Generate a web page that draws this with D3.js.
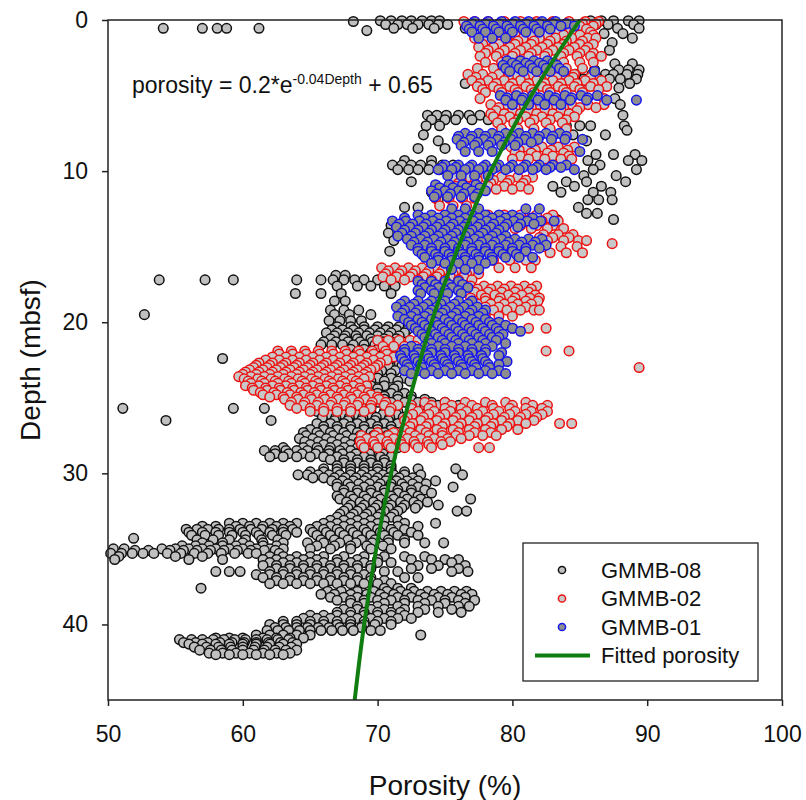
<!DOCTYPE html>
<html>
<head>
<meta charset="utf-8">
<title>Porosity vs depth</title>
<script src="https://cdn.jsdelivr.net/npm/d3@7"></script>
<style>
  body { margin: 0; background: #fff; }
  svg { font-family: "Liberation Sans", Arial, sans-serif; }
  .axis text { font-size: 23px; fill: #111; }
  .axis line { stroke: #222; stroke-width: 1.5; }
  .axis path { display: none; }
  .frame { fill: none; stroke: #222; stroke-width: 1.5; }
  .dot { stroke-width: 1.5; }
  .s08 { fill: #c0c0c0; stroke: #111; }
  .s02 { fill: #c8c8c8; stroke: #ee1111; }
  .s01 { fill: #8e8e8e; stroke: #1515ee; }
  .fit { fill: none; stroke: #0f7d0f; stroke-width: 4; }
  .title { font-size: 28px; fill: #111; }
  .eq { font-size: 23px; fill: #111; }
  .legend text { font-size: 22px; fill: #111; }
  .legend rect { fill: #fff; stroke: #222; stroke-width: 1.3; }
</style>
</head>
<body>
<script>

// each row: [depth (mbsf), porosity (%), porosity, ...]
var gmmb08 = [
  [0.05, 70.2, 71.0, 71.8, 72.5, 73.3, 74.0, 74.6, 85.8, 86.6, 87.5, 88.6, 89.4],
  [0.1, 68.2],
  [0.3, 70.6, 71.5, 72.2, 73.0, 73.8, 74.5, 75.2, 86.2, 87.1, 89.0],
  [0.55, 54.1, 57.0, 58.1, 58.8, 61.2, 71.2, 72.6, 74.2, 76.5, 87.8, 89.4],
  [0.7, 69.2],
  [0.9, 86.8, 88.2],
  [1.2, 85.6, 88.9],
  [1.5, 87.4],
  [2.0, 87.2],
  [2.9, 87.6, 88.9],
  [3.3, 86.1, 87.9, 88.6, 89.4],
  [3.6, 84.7, 85.9, 86.9, 87.5, 88.5, 89.3],
  [3.9, 77.1, 84.1, 85.3, 86.4, 87.2, 88.0, 89.2],
  [4.2, 76.5, 85.0, 86.0, 88.7],
  [4.5, 87.9],
  [5.2, 87.6],
  [5.6, 88.0],
  [6.3, 73.7, 74.4, 75.1, 76.0, 76.8, 77.6, 78.5, 88.2],
  [6.6, 74.0, 75.0, 75.8, 77.0, 78.2],
  [7.0, 73.6, 74.6, 84.0, 85.0, 85.8, 88.3],
  [7.3, 88.5],
  [7.6, 73.4, 84.5, 86.9],
  [8.0, 74.5, 85.5],
  [8.5, 73.0, 75.0],
  [8.9, 86.2, 87.5, 89.1],
  [9.3, 72.0, 74.0, 85.6, 88.6, 89.6],
  [9.6, 71.1, 71.8, 72.5, 73.2, 74.0, 74.8, 75.6, 86.5],
  [9.9, 71.5, 72.3, 73.0, 73.8, 74.6, 86.0, 89.2],
  [10.3, 85.3, 87.7],
  [10.7, 72.5, 84.0, 85.5, 88.4],
  [11.0, 83.0, 84.6, 86.6],
  [11.4, 74.0, 83.6, 86.0, 87.3],
  [11.9, 74.5, 85.6, 86.4, 87.4],
  [12.4, 72.0, 73.0, 84.9],
  [12.8, 85.5, 86.3],
  [13.2, 83.3, 87.5],
  [13.6, 71.0, 72.0],
  [14.1, 70.8, 71.8],
  [14.6, 71.2],
  [15.3, 70.9],
  [16.6, 71.5],
  [16.9, 66.9, 67.6, 70.6],
  [17.2, 53.8, 57.2, 59.3, 64.0, 65.8, 66.7, 67.5, 68.3, 69.0, 70.0, 71.0],
  [17.6, 67.0, 68.5, 69.5, 70.5, 71.3],
  [18.1, 63.9, 65.8, 67.3, 71.0],
  [18.6, 66.8, 67.6],
  [19.2, 66.5, 67.5, 68.6],
  [19.5, 52.7, 66.8, 67.9, 69.5],
  [19.9, 66.4, 67.2, 68.0, 68.8],
  [20.3, 67.0, 68.0, 69.0, 70.0, 70.8, 71.6, 72.4, 73.2],
  [20.5, 66.6, 67.4, 68.2, 69.0, 69.8, 70.6, 71.4, 72.2],
  [20.7, 66.2, 67.0, 67.8, 68.6, 69.4, 70.2, 71.0, 72.0],
  [20.9, 66.8, 67.6, 68.4, 69.2, 70.0, 70.8, 71.6],
  [21.1, 66.5, 67.5, 68.5, 69.5, 70.5, 71.4],
  [21.3, 66.0, 66.9, 67.8, 68.7, 69.6, 70.4, 71.0],
  [21.5, 65.8, 66.6, 67.4, 68.2, 69.0, 69.8, 70.6],
  [21.8, 68.0, 69.0, 70.0, 71.0],
  [22.0, 68.5, 69.5, 70.5, 71.5],
  [22.2, 68.3, 69.3, 70.3, 71.3],
  [22.4, 58.5, 69.0, 70.0, 71.0],
  [22.7, 68.6, 69.6, 70.6, 71.6],
  [22.9, 68.8, 69.8, 70.8, 71.8],
  [23.2, 69.3, 70.3, 71.3],
  [23.4, 69.0, 70.0, 71.0],
  [23.7, 69.0, 70.0, 71.0, 72.0],
  [23.9, 69.5, 70.5, 71.5, 72.4],
  [24.2, 69.5, 70.5, 71.5],
  [24.4, 69.0, 70.0, 71.2],
  [24.7, 69.0, 70.0, 71.0, 72.0],
  [24.9, 68.5, 69.5, 70.5, 71.5, 72.5],
  [25.1, 67.5, 68.5, 69.5, 70.5, 71.5, 72.5, 73.5],
  [25.3, 67.0, 68.0, 69.0, 70.0, 71.0, 72.0, 73.0, 74.0, 75.0],
  [25.5, 66.5, 67.5, 68.5, 69.5, 70.5, 71.5, 72.5, 73.5, 74.5, 76.0],
  [25.7, 51.1, 59.3, 61.6, 65.0, 66.0, 67.0, 68.0, 69.5, 71.0, 72.5, 74.0, 75.5, 76.9],
  [25.9, 65.5, 66.5, 67.5, 68.5, 69.5, 70.5, 71.5, 72.5],
  [26.1, 66.4, 67.4, 68.4, 69.4, 70.4, 71.4, 72.4, 73.4],
  [26.3, 65.9, 66.9, 67.9, 68.9, 69.9, 70.9, 71.9],
  [26.5, 54.3, 62.1, 66.8, 67.8, 68.8, 69.8, 70.8],
  [26.7, 65.5, 66.5, 67.5, 68.5, 69.5, 70.5, 71.5],
  [26.9, 66.0, 67.0, 68.0, 69.0, 70.0, 71.0],
  [27.1, 65.0, 66.0, 67.0, 68.0, 69.0, 70.0, 71.0, 72.0],
  [27.3, 64.5, 65.5, 66.5, 67.5, 68.5, 69.5, 70.5, 71.5, 72.5],
  [27.5, 64.7, 65.7, 66.7, 67.7, 68.7, 69.7, 70.7, 71.7],
  [27.7, 64.2, 65.2, 66.2, 67.2, 68.2, 69.2, 70.2, 71.2],
  [27.9, 64.6, 65.6, 66.6, 67.6, 68.6, 69.6, 70.6, 71.6],
  [28.1, 65.0, 66.0, 67.0, 68.0, 69.0, 70.0, 71.0, 72.0],
  [28.3, 63.0, 64.5, 65.5, 66.5, 67.5, 68.5, 69.5, 70.5, 71.5],
  [28.5, 61.6, 62.4, 63.2, 64.0, 64.8, 65.6, 66.4, 67.2, 68.0, 68.8, 69.5, 70.5],
  [28.7, 62.4, 63.4, 64.4, 65.4, 66.4, 67.4, 68.4, 69.4, 70.4],
  [28.9, 62.0, 63.0, 64.0, 65.0, 66.0, 67.0, 68.0, 69.0, 70.2, 71.0],
  [29.1, 66.5, 67.5, 68.5, 69.5, 70.5],
  [29.3, 67.5, 68.5, 69.5, 70.5],
  [29.5, 67.0, 68.0, 69.0, 70.0, 71.0],
  [29.7, 66.0, 67.0, 68.0, 69.0, 70.0, 71.0, 73.0, 75.8],
  [29.9, 65.0, 66.0, 67.0, 68.0, 69.0, 70.0, 71.0, 72.0],
  [30.1, 64.1, 64.8, 65.6, 66.4, 67.2, 68.0, 68.8, 69.6, 70.4, 71.2, 72.0, 73.2, 76.3],
  [30.3, 65.2, 66.0, 66.8, 67.6, 68.4, 69.2, 70.0, 70.8, 71.6, 72.6],
  [30.5, 66.6, 67.4, 68.2, 69.0, 69.8, 70.6, 71.4, 72.2, 73.0, 74.3],
  [30.7, 67.0, 67.8, 68.6, 69.4, 70.2, 71.0, 71.8, 72.6, 73.6],
  [30.9, 67.0, 68.0, 69.0, 70.0, 71.0, 72.0, 73.0, 75.6],
  [31.1, 67.5, 68.5, 69.5, 70.5, 71.5, 72.5, 73.5],
  [31.3, 67.5, 68.5, 69.5, 70.5, 71.5, 72.5, 74.0],
  [31.5, 67.0, 68.0, 69.0, 70.0, 71.0, 72.0, 73.0],
  [31.7, 67.2, 68.2, 69.2, 70.2, 71.2, 72.2, 73.2, 76.9],
  [31.9, 67.7, 68.7, 69.7, 70.7, 71.7, 72.7, 73.7],
  [32.1, 68.0, 69.0, 70.0, 71.0, 72.0, 73.0, 74.5],
  [32.3, 67.8, 68.8, 69.8, 70.8, 71.8, 72.8],
  [32.5, 67.5, 68.5, 69.5, 70.5, 71.5, 75.9, 76.6],
  [32.7, 67.2, 68.2, 69.2, 70.2, 71.2],
  [32.9, 67.0, 68.0, 69.0, 70.0, 71.0],
  [33.1, 66.5, 67.5, 68.5, 69.5, 70.5, 71.5],
  [33.3, 59.0, 60.0, 61.0, 62.0, 63.0, 64.0, 66.0, 67.0, 68.0, 69.0, 70.0, 72.0, 74.3],
  [33.5, 57.0, 58.0, 59.5, 60.5, 61.5, 62.5, 63.5, 65.5, 66.5, 67.5, 68.5, 69.5, 70.5, 71.5, 73.0],
  [33.7, 55.8, 56.6, 57.4, 58.2, 59.0, 59.8, 60.6, 61.4, 62.2, 63.0, 63.7, 65.0, 66.0, 67.0, 68.0, 69.0, 70.0, 71.0, 72.0],
  [33.9, 56.0, 57.0, 58.0, 59.0, 60.0, 61.0, 62.0, 63.0, 64.0, 65.2, 66.2, 67.2, 68.2, 69.2, 70.2, 71.2, 72.5],
  [34.1, 56.2, 57.2, 58.2, 59.2, 60.2, 61.2, 62.2, 63.2, 65.5, 66.5, 67.5, 68.5, 69.5, 70.5, 71.5, 73.0],
  [34.3, 51.9],
  [34.4, 56.6, 57.8, 59.0, 60.2, 61.4, 62.6, 65.8, 66.8, 67.8, 68.8, 69.8, 70.8, 72.0],
  [34.6, 57.0, 58.5, 60.0, 61.5, 63.0, 64.8, 66.0, 67.2, 68.4, 69.6, 70.8, 72.0, 73.5, 74.9],
  [34.8, 55.5, 56.5, 57.5, 58.5, 59.5, 60.5, 61.5, 62.5, 65.5, 66.8, 68.0, 69.2, 70.4],
  [35.0, 50.4, 51.2, 54.0, 55.0, 56.0, 57.0, 58.0, 59.0, 60.0, 61.0, 62.0, 63.0, 65.0, 66.5, 68.0, 69.5, 71.0],
  [35.1, 52.0, 53.0, 54.6, 55.6, 56.6, 57.6, 58.6, 59.6, 60.6, 61.6, 62.4],
  [35.3, 50.2, 51.0, 51.8, 52.6, 53.4, 54.4, 55.4, 56.4, 57.4, 58.4, 59.4, 60.4, 61.0, 62.7],
  [35.5, 50.8, 55.0, 57.0, 62.0, 63.0, 64.0, 65.0, 66.0, 67.5, 69.0, 70.5, 72.0, 73.5],
  [35.7, 50.5, 56.0, 58.5, 61.5, 62.5, 63.5, 64.5, 65.5, 67.0, 68.5, 70.0, 72.5, 74.0, 75.0, 76.0],
  [35.9, 62.0, 63.0, 64.0, 65.0, 66.0, 67.0, 68.0, 69.0, 70.0, 71.0, 75.5],
  [36.1, 61.5, 62.5, 63.5, 64.5, 65.5, 66.5, 67.5, 68.5, 69.5, 73.0, 74.5, 76.5],
  [36.3, 62.5, 63.5, 64.5, 65.5, 66.5, 67.5, 68.5, 69.5, 72.5, 74.0, 76.0],
  [36.5, 58.0, 59.0, 59.8, 62.0, 63.0, 64.0, 65.0, 66.0, 67.0, 68.0, 70.5, 71.5, 75.5, 76.7],
  [36.7, 61.0, 62.0, 63.0, 64.0, 65.0, 66.0, 67.0, 68.0, 69.0],
  [36.9, 61.5, 62.5, 63.5, 64.5, 65.5, 66.5, 67.5, 68.5, 69.5, 72.0, 73.0],
  [37.1, 62.5, 63.5, 64.5, 65.5, 66.5, 67.5, 68.5, 69.5, 70.5],
  [37.3, 62.0, 63.0, 64.0, 65.0, 66.0, 67.0, 68.0, 69.0, 70.0, 71.0],
  [37.6, 56.9, 70.5, 71.5, 72.5],
  [37.8, 66.3, 67.3, 68.5, 69.7, 70.7, 71.7, 72.7, 73.7, 74.7, 75.7, 76.6],
  [38.0, 65.8, 66.8, 68.0, 69.2, 70.2, 71.2, 72.2, 73.2, 74.2, 75.2, 76.2, 77.0],
  [38.2, 66.5, 67.5, 68.5, 69.5, 70.5, 71.5, 72.5, 73.5, 74.5, 75.5, 76.5],
  [38.4, 67.0, 68.0, 69.0, 70.0, 71.0, 72.0, 73.0, 74.0, 75.0, 76.0, 77.2],
  [38.6, 68.0, 69.0, 70.5, 72.0, 73.5, 75.0, 76.5],
  [38.8, 68.5, 70.0, 71.5, 73.0, 74.5, 76.0, 76.8],
  [39.0, 67.5, 68.5, 69.5, 70.5, 72.0, 73.5, 75.5],
  [39.2, 67.0, 68.0, 69.0, 70.0, 71.0, 71.7, 73.0, 74.5, 76.2],
  [39.4, 65.0, 66.0, 67.0, 68.0, 69.0, 70.0, 71.0, 72.0],
  [39.6, 64.5, 65.5, 66.5, 67.5, 68.5, 69.5, 70.5, 71.5, 72.5],
  [39.8, 63.0, 64.0, 65.0, 66.0, 67.0, 68.0, 69.0, 70.0, 71.0],
  [40.0, 62.0, 63.0, 64.0, 65.0, 66.0, 67.0, 68.0, 69.0, 69.8, 71.0],
  [40.2, 62.4, 63.2, 64.0, 64.8, 65.6, 66.4, 67.2, 68.0, 68.8],
  [40.4, 61.8, 62.6, 63.4, 64.2, 65.0, 65.8, 66.6, 67.4, 68.2, 69.5, 70.2],
  [40.7, 61.0, 62.0, 63.0, 64.0, 65.0, 73.2],
  [40.9, 58.0, 59.0, 60.0, 61.5, 62.5, 63.5, 64.5],
  [41.0, 55.3, 56.2, 57.0, 57.8, 58.6, 59.4, 60.2, 61.0, 61.8, 62.6, 63.4],
  [41.2, 55.6, 56.5, 57.4, 58.3, 59.2, 60.1, 61.0, 61.9, 62.8, 63.7],
  [41.3, 56.0, 57.0, 58.0, 59.0, 60.0, 61.0, 62.0, 63.0, 64.0],
  [41.5, 56.4, 57.3, 58.2, 59.1, 60.0, 60.9, 61.8, 62.7, 63.6],
  [41.7, 56.8, 57.6, 58.4, 59.2, 60.0, 60.8, 61.6, 62.4, 63.2, 64.0],
  [41.9, 57.5, 58.5, 59.5, 60.5, 61.5, 62.5, 63.5],
  [42.0, 58.0, 59.0, 60.0, 61.0, 62.0, 63.0]
];

var gmmb02 = [
  [0.1, 76.4, 77.2, 78.2, 79.4, 80.6, 81.8, 83.0, 84.2, 85.4, 86.4],
  [0.25, 77.0, 78.0, 79.2, 80.4, 81.6, 82.8, 84.0, 85.2, 86.2],
  [0.4, 76.8, 78.0, 79.0, 80.2, 81.4, 82.6, 83.8, 85.0, 86.0],
  [0.6, 77.1, 78.3, 79.5, 80.7, 81.9, 83.1, 84.3, 85.5],
  [0.8, 77.5, 78.6, 79.8, 81.0, 82.2, 83.4, 84.6, 85.8],
  [1.0, 77.8, 79.0, 80.2, 81.4, 82.6, 83.8, 85.0, 86.0],
  [1.2, 77.2, 78.4, 79.6, 80.8, 82.0, 83.2, 84.4, 85.6, 86.2],
  [1.4, 78.0, 79.2, 80.4, 81.6, 82.8, 84.0, 85.2],
  [1.6, 77.8, 79.0, 80.2, 81.4, 82.6, 83.8, 85.0, 86.0],
  [1.8, 77.5, 78.6, 79.8, 81.0, 82.2, 83.4, 84.6, 85.6],
  [2.0, 78.2, 79.4, 80.6, 81.8, 83.0, 84.2, 85.4],
  [2.2, 78.0, 79.0, 80.2, 81.4, 82.6, 83.8, 85.0, 86.0],
  [2.4, 77.6, 78.8, 80.0, 81.2, 82.4, 83.6, 84.8, 85.8, 86.6],
  [2.8, 78.0, 79.2, 80.4, 83.8, 85.0, 86.0],
  [3.2, 77.4, 78.6, 84.0, 85.2],
  [3.6, 76.7, 77.8, 79.0, 80.2, 81.4, 82.6, 83.8, 84.6],
  [3.8, 77.3, 78.5, 79.7, 80.9, 82.1, 83.3, 84.5, 85.8],
  [4.0, 77.0, 78.2, 79.4, 80.6, 81.8, 83.0, 84.2, 85.4, 86.6],
  [4.2, 77.6, 78.8, 80.0, 81.2, 82.4, 83.6, 84.8, 86.0],
  [4.4, 77.4, 78.6, 79.8, 81.0, 82.2, 83.4, 84.6, 85.8, 87.0],
  [4.6, 77.8, 79.0, 80.2, 81.4, 82.6, 83.8, 85.0, 86.4],
  [4.8, 78.0, 79.2, 80.4, 81.6, 82.8, 84.0, 85.2],
  [5.2, 77.6, 86.8],
  [5.6, 78.4, 79.6, 80.8, 82.0, 83.2, 84.4, 85.6, 86.8],
  [5.8, 79.0, 80.2, 81.4, 82.6, 83.8, 85.0, 86.2],
  [6.0, 78.8, 80.0, 81.2, 82.4, 83.6, 84.8],
  [6.2, 78.4, 79.4, 80.6, 81.8, 83.0, 84.2],
  [6.4, 78.6, 79.8, 81.0, 82.2, 83.4, 84.6],
  [6.6, 79.2, 80.4, 81.6, 82.8, 84.0],
  [6.8, 78.9, 80.1, 81.3, 82.5, 83.7],
  [7.2, 79.2, 80.4, 81.6, 82.8, 84.0],
  [8.4, 79.9, 81.0, 82.2, 83.4, 84.6],
  [8.6, 80.5, 81.7, 82.9, 84.1],
  [8.8, 80.2, 81.4, 82.6, 83.8],
  [9.0, 80.6, 81.8, 83.0, 84.2],
  [9.2, 80.0, 81.2, 82.4, 83.6, 84.4],
  [10.4, 75.6, 76.8, 78.0, 79.2, 80.4, 81.5],
  [10.6, 76.2, 77.4, 78.6, 79.8, 81.0],
  [10.8, 76.0, 77.2, 78.4, 79.6, 80.8],
  [11.0, 75.8, 77.0, 78.2, 79.4, 80.6],
  [11.2, 76.4, 77.6, 78.8, 80.0, 81.2],
  [11.8, 74.3, 75.3, 76.3, 77.2],
  [12.3, 74.6, 75.6, 76.6],
  [12.9, 77.0, 78.2, 79.4, 80.6, 81.8, 83.0],
  [13.1, 77.8, 79.0, 80.2, 81.4, 82.6],
  [13.3, 78.6, 79.8, 81.0, 82.2, 83.4],
  [13.6, 79.4, 80.6, 81.8, 83.0],
  [13.8, 79.0, 80.2, 81.4, 82.6, 83.8],
  [14.2, 82.3, 83.4, 84.5],
  [14.4, 82.0, 83.0, 84.2],
  [14.6, 82.6, 83.8, 84.9, 85.5],
  [14.8, 87.4],
  [15.0, 82.4, 83.6, 84.8],
  [15.4, 82.8, 84.0, 85.2],
  [15.9, 78.6, 79.8, 81.0, 81.7],
  [16.4, 70.3, 71.3, 72.3, 73.3, 74.3, 75.3, 79.0, 80.2, 81.4],
  [16.6, 70.8, 71.8, 72.8, 73.8, 74.8, 75.8, 77.0],
  [16.8, 70.6, 71.6, 72.6, 73.6, 74.6, 75.6, 76.6, 77.5],
  [17.0, 70.4, 71.4, 72.4, 73.4, 74.4, 75.4, 76.4],
  [17.2, 71.0, 72.0, 73.0, 74.0, 75.0, 76.0, 77.0],
  [17.6, 76.9, 77.9, 78.9, 79.9, 80.9, 81.8],
  [17.8, 77.4, 78.4, 79.4, 80.4, 81.4],
  [18.0, 77.2, 78.2, 79.2, 80.2, 81.2],
  [18.2, 77.7, 78.7, 79.7, 80.7, 81.7],
  [18.4, 76.9, 78.0, 79.1, 80.2, 81.3, 82.0],
  [18.6, 77.0, 78.0, 79.0, 80.0, 81.0, 81.9],
  [18.8, 77.4, 78.4, 79.4, 80.4, 81.4],
  [19.0, 78.0, 79.0, 80.0, 81.0],
  [19.2, 77.6, 78.6, 79.6, 80.6, 81.6, 82.0],
  [19.6, 78.0, 79.0, 80.0],
  [20.4, 77.5, 78.8, 80.0, 81.2, 82.5],
  [21.2, 70.0, 70.8, 71.6, 72.4, 73.0],
  [21.6, 70.4, 71.2, 72.0, 72.8],
  [21.9, 62.6, 63.6, 64.6, 65.6, 66.6, 67.6, 68.6, 69.6, 70.6, 82.5, 84.2],
  [22.1, 62.7, 63.7, 64.7, 65.7, 66.7, 67.7, 68.7, 69.7, 70.7],
  [22.3, 62.2, 63.2, 64.2, 65.2, 66.2, 67.2, 68.2, 69.2, 70.2, 71.2],
  [22.5, 61.7, 62.7, 63.7, 64.7, 65.7, 66.7, 67.7, 68.7, 69.7, 70.7],
  [22.7, 61.2, 62.2, 63.2, 64.2, 65.2, 66.2, 67.2, 68.2, 69.2, 70.2],
  [22.85, 61.0, 62.0, 63.0, 64.0, 65.0, 66.0, 67.0, 68.0, 69.0, 70.0],
  [23.0, 60.8, 61.8, 62.8, 63.8, 64.8, 65.8, 66.8, 67.8, 68.8, 69.8, 89.4],
  [23.15, 60.5, 61.5, 62.5, 63.5, 64.5, 65.5, 66.5, 67.5, 68.5, 69.5],
  [23.3, 60.2, 61.2, 62.2, 63.2, 64.2, 65.2, 66.2, 67.2, 68.2, 69.2],
  [23.45, 60.0, 61.0, 62.0, 63.0, 64.0, 65.0, 66.0, 67.0, 68.0, 69.0],
  [23.6, 59.7, 60.6, 61.6, 62.6, 63.6, 64.6, 65.6, 66.6, 67.6, 68.6, 69.4],
  [23.75, 60.1, 61.1, 62.1, 63.1, 64.1, 65.1, 66.1, 67.1, 68.1, 69.0],
  [23.9, 60.4, 61.4, 62.4, 63.4, 64.4, 65.4, 66.4, 67.4, 68.4],
  [24.05, 60.6, 61.6, 62.6, 63.6, 64.6, 65.6, 66.6, 67.6, 68.6],
  [24.2, 60.2, 61.2, 62.2, 63.2, 64.2, 65.2, 66.2, 67.2, 68.2, 69.2],
  [24.35, 60.7, 61.7, 62.7, 63.7, 64.7, 65.7, 66.7, 67.7, 68.7],
  [24.5, 60.8, 61.8, 62.8, 63.8, 64.8, 65.8, 66.8, 67.8, 68.8],
  [24.65, 61.3, 62.3, 63.3, 64.3, 65.3, 66.3, 67.3, 68.3, 69.3],
  [24.8, 61.5, 62.5, 63.5, 64.5, 65.5, 66.5, 67.5, 68.5, 69.5],
  [24.95, 62.0, 63.0, 64.0, 65.0, 66.0, 67.0, 68.0, 69.0, 70.0],
  [25.1, 63.1, 64.1, 65.1, 66.1, 67.1, 68.1, 69.1, 70.1],
  [25.3, 63.6, 64.6, 65.6, 66.6, 67.6, 68.6, 69.6, 70.6, 73.5, 75.0, 76.5, 78.0, 79.5, 81.0],
  [25.5, 63.5, 64.5, 65.5, 66.5, 67.5, 68.5, 69.5, 70.5, 71.5, 72.5, 74.0, 75.5, 77.0, 78.5, 80.0, 81.5, 82.6],
  [25.7, 64.0, 65.0, 66.0, 67.0, 68.0, 69.5, 71.0, 72.5, 73.8, 75.0, 76.2, 77.4, 78.6, 79.8, 81.0, 82.2],
  [25.9, 65.0, 66.0, 67.0, 68.0, 69.0, 70.9, 73.0, 74.2, 75.4, 76.6, 77.8, 79.0, 80.2, 81.4, 82.6],
  [26.1, 72.6, 73.8, 75.0, 76.2, 77.4, 78.6, 79.8, 81.0, 82.2],
  [26.3, 72.2, 73.4, 74.6, 75.8, 77.0, 78.2, 79.4, 80.6, 81.8],
  [26.5, 72.0, 73.2, 74.4, 75.6, 76.8, 78.0, 79.2, 80.4, 81.6],
  [26.7, 72.6, 73.8, 75.0, 76.2, 77.4, 78.6, 79.8, 81.0, 83.5, 84.4],
  [26.9, 72.4, 73.6, 74.8, 76.0, 77.2, 78.4, 79.6],
  [27.1, 72.0, 73.2, 74.4, 75.6, 76.8, 78.0, 79.2, 80.4],
  [27.3, 70.0, 71.2, 72.4, 73.6, 74.8, 76.0, 77.2, 78.4],
  [27.5, 68.8, 69.8, 70.8, 71.8, 72.8, 73.8, 74.8, 75.8, 76.8, 77.8, 78.8],
  [27.7, 69.2, 70.2, 71.2, 72.2, 73.2, 74.2, 75.2, 76.2],
  [27.9, 68.7, 69.7, 70.7, 71.7, 72.7, 73.7, 74.7, 75.4],
  [28.1, 68.8, 69.8, 70.8, 71.8, 72.8, 73.8, 74.8],
  [28.3, 69.0, 70.0, 71.0, 72.0, 73.0, 74.0, 77.5, 78.3]
];

var gmmb01 = [
  [0.1, 77.2, 78.2, 79.2, 80.2, 81.2, 82.2, 83.2],
  [0.25, 77.0, 78.0, 79.0, 80.0, 81.0, 82.0, 83.0, 84.0],
  [0.4, 76.6, 77.6, 78.6, 79.6, 80.6, 81.6, 82.6, 83.6, 84.6],
  [0.6, 76.8, 77.8, 78.8, 79.8, 80.8, 81.8, 82.8],
  [0.8, 77.0, 78.0, 79.0, 80.0, 81.0, 82.0],
  [1.2, 77.5, 78.5, 79.5],
  [2.7, 79.6, 80.6, 81.6, 82.6],
  [2.85, 80.0, 81.0, 82.0, 83.0],
  [3.0, 79.3, 80.3, 81.3, 82.3, 83.3],
  [3.2, 79.5, 80.5, 81.5, 82.5, 83.5],
  [3.4, 79.8, 80.8, 81.8, 82.8, 83.8, 86.1],
  [5.0, 79.1, 80.3, 81.5, 82.7, 83.9, 85.1, 86.3],
  [5.15, 79.6, 80.8, 82.0, 83.2, 84.4, 85.6],
  [5.3, 79.5, 80.7, 81.9, 83.1, 84.3, 85.5, 87.0, 89.2],
  [5.6, 80.0, 81.2, 82.4, 83.6],
  [7.5, 76.5, 77.5, 78.5, 79.5, 80.5, 81.5, 82.5, 83.5],
  [7.7, 76.0, 77.0, 78.0, 79.0, 80.0, 81.0, 82.0, 83.0, 84.0],
  [7.9, 75.9, 76.9, 77.9, 78.9, 79.9, 80.9, 81.9, 82.9, 83.9, 85.2],
  [8.1, 76.4, 77.4, 78.4, 79.4, 80.4, 81.4],
  [8.3, 76.2, 77.2, 78.2, 79.2, 80.2],
  [8.7, 76.5, 77.5, 78.5, 85.0],
  [9.6, 75.0, 76.0, 77.0, 78.0, 79.0, 80.0, 81.0, 82.0, 83.0, 84.0],
  [9.75, 74.8, 75.8, 76.8, 77.8, 78.8, 79.8, 80.8, 81.8, 82.8, 83.6],
  [9.9, 74.5, 75.5, 76.5, 77.5, 78.5, 79.5, 80.5, 81.5, 82.5, 84.6],
  [10.3, 75.2, 76.2, 77.2, 78.2],
  [10.9, 74.3, 75.3, 76.3, 77.3],
  [11.1, 74.6, 75.6, 76.6, 77.6],
  [11.3, 74.0, 75.0, 76.0, 77.0, 78.0],
  [11.5, 74.4, 75.4, 76.4, 77.4],
  [11.7, 74.2, 75.2, 76.2, 77.2],
  [12.5, 75.5, 76.5, 77.5, 81.0, 82.0],
  [12.9, 73.0, 74.0, 75.0, 76.0, 77.0, 78.0, 79.0, 80.0],
  [13.1, 72.0, 73.5, 74.5, 75.5, 76.5, 77.5, 78.5, 79.5, 80.5, 81.5],
  [13.3, 71.1, 72.1, 73.1, 74.1, 75.1, 76.1, 77.1, 78.1, 79.1, 80.1, 81.1, 82.1, 83.1],
  [13.5, 71.6, 72.6, 73.6, 74.6, 75.6, 76.6, 77.6, 78.6, 79.6, 80.6, 81.6],
  [13.7, 71.4, 72.4, 73.4, 74.4, 75.4, 76.4, 77.4, 78.4, 79.4, 80.4],
  [13.9, 72.0, 73.0, 74.0, 75.0, 76.0, 77.0, 78.0, 79.0],
  [14.1, 71.8, 72.8, 73.8, 74.8, 75.8, 76.8, 77.8, 78.8],
  [14.3, 71.5, 72.5, 73.5, 74.5, 75.5, 76.5, 77.5, 78.5, 79.5],
  [14.5, 72.2, 73.2, 74.2, 75.2, 76.2, 77.2, 78.2, 79.2, 80.2, 81.2, 82.2],
  [14.7, 72.7, 73.7, 74.7, 75.7, 76.7, 77.7, 78.7, 79.7, 80.7, 81.7],
  [14.9, 72.5, 73.5, 74.5, 75.5, 76.5, 77.5, 78.5, 79.5, 80.5, 81.5, 82.5],
  [15.1, 73.0, 74.0, 75.0, 76.0, 77.0, 78.0, 79.0, 80.0, 81.0, 82.0],
  [15.3, 73.0, 74.0, 75.0, 76.0, 77.0, 78.0, 79.0, 80.0, 81.0],
  [15.5, 73.3, 74.3, 75.3, 76.3, 77.3, 78.3, 79.3, 80.3],
  [15.7, 73.5, 74.5, 75.5, 76.5, 77.5, 78.5, 79.5, 80.5, 81.5],
  [15.9, 74.5, 75.5, 76.5, 77.5, 78.5],
  [16.1, 74.0, 75.0, 76.0, 77.0, 78.0],
  [16.5, 75.5, 76.5, 77.5],
  [17.3, 73.0, 74.0, 75.0, 76.0],
  [17.5, 73.3, 74.3, 75.3, 76.3],
  [17.7, 73.5, 74.5, 75.5, 76.7],
  [17.9, 73.0, 74.0, 75.0, 76.0],
  [18.1, 73.2, 74.2, 75.2, 76.2],
  [18.6, 72.0, 73.0, 74.0, 75.0, 76.0, 77.0],
  [18.8, 71.7, 72.7, 73.7, 74.7, 75.7, 76.7],
  [19.0, 71.4, 72.4, 73.4, 74.4, 75.4, 76.4, 77.4],
  [19.2, 72.0, 73.0, 74.0, 75.0, 76.0, 77.0, 78.0],
  [19.4, 71.8, 72.8, 73.8, 74.8, 75.8, 76.8, 77.8],
  [19.6, 71.5, 72.5, 73.5, 74.5, 75.5, 76.5, 77.5],
  [19.8, 72.0, 73.0, 74.0, 75.0, 76.0, 77.0, 78.0],
  [20.0, 72.3, 73.3, 74.3, 75.3, 76.3, 77.3, 78.3, 79.0],
  [20.2, 72.5, 73.5, 74.5, 75.5, 76.5, 77.5, 78.5, 79.5],
  [20.4, 72.8, 73.8, 74.8, 75.8, 76.8, 77.8, 78.8, 80.0],
  [20.6, 73.0, 74.0, 75.0, 76.0, 77.0, 78.0, 79.0, 80.6],
  [20.8, 73.3, 74.3, 75.3, 76.3, 77.3, 78.3, 79.3],
  [21.0, 73.5, 74.5, 75.5, 76.5, 77.5, 78.5, 79.0],
  [21.2, 73.8, 74.8, 75.8, 76.8, 77.8, 78.8],
  [21.4, 74.0, 75.0, 76.0, 77.0, 78.0, 79.5],
  [21.6, 72.5, 73.5, 74.5, 75.5, 76.5, 77.5, 78.5],
  [21.8, 72.0, 73.0, 74.0, 75.0, 76.0, 77.0, 78.0],
  [22.0, 72.0, 73.0, 74.0, 75.0, 76.0, 77.0, 78.0, 79.2],
  [22.2, 71.7, 72.7, 73.7, 74.7, 75.7, 76.7, 77.7, 79.0],
  [22.4, 71.8, 72.8, 73.8, 74.8, 75.8, 76.8, 77.8],
  [22.6, 72.0, 73.0, 74.0, 75.0, 76.0, 77.0, 78.0, 79.6],
  [22.8, 72.2, 73.2, 74.2, 75.2, 76.2, 77.2, 78.2, 79.0],
  [23.0, 72.3, 73.3, 74.3, 75.3, 76.3, 77.3, 78.3],
  [23.2, 72.0, 73.0, 74.0, 75.0, 76.0, 77.0, 78.0, 79.0],
  [23.4, 72.5, 73.5, 74.5, 75.5, 76.5, 77.5, 78.5, 79.5]
];

// fitted curve
var fitDepth = [0, 5, 10, 15, 20, 25, 30, 35, 40, 45];
var fitPorosity = [85.0, 81.4, 78.4, 76.0, 74.0, 72.4, 71.0, 69.9, 69.0, 68.3];

var xTicks = [50, 60, 70, 80, 90, 100];
var yTicks = [0, 10, 20, 30, 40];

var legendNames = ["GMMB-08", "GMMB-02", "GMMB-01", "Fitted porosity"];

var margin = {top: 20, right: 24, bottom: 100, left: 108},
    width = 806 - margin.left - margin.right,
    height = 800 - margin.top - margin.bottom;

var x = d3.scaleLinear().domain([50, 100]).range([0, width]);
var y = d3.scaleLinear().domain([0, 45]).range([0, height]);

var svg = d3.select("body").append("svg")
    .attr("width", 806)
    .attr("height", 800)
  .append("g")
    .attr("transform", "translate(" + margin.left + "," + margin.top + ")");

svg.append("g")
    .attr("class", "x axis")
    .attr("transform", "translate(0," + height + ")")
    .call(d3.axisBottom(x).tickValues(xTicks).tickSize(6).tickPadding(20));

svg.append("g")
    .attr("class", "y axis")
    .call(d3.axisLeft(y).tickValues(yTicks).tickSize(6).tickPadding(14));

function points(rows) {
  return rows.flatMap(function (r) {
    return r.slice(1).map(function (p) { return {depth: r[0], poro: p}; });
  });
}

[[gmmb08, "s08"], [gmmb02, "s02"], [gmmb01, "s01"]].forEach(function (s) {
  svg.append("g")
    .selectAll("circle")
    .data(points(s[0]))
    .enter().append("circle")
      .attr("class", "dot " + s[1])
      .attr("cx", function (d) { return x(d.poro); })
      .attr("cy", function (d) { return y(d.depth); })
      .attr("r", 4.8);
});

var line = d3.line()
    .x(function (d) { return x(d[1]); })
    .y(function (d) { return y(d[0]); })
    .curve(d3.curveMonotoneY);

svg.append("path")
    .attr("class", "fit")
    .attr("d", line(d3.zip(fitDepth, fitPorosity)));

svg.append("rect")
    .attr("class", "frame")
    .attr("width", width)
    .attr("height", height);

// equation
var eq = svg.append("text")
    .attr("class", "eq")
    .attr("x", 24)
    .attr("y", 73);
eq.append("tspan").text("porosity = 0.2*e");
eq.append("tspan").attr("dy", -9).style("font-size", "14px").text("-0.04Depth");
eq.append("tspan").attr("dy", 9).text(" + 0.65");

// axis titles
svg.append("text")
    .attr("class", "title")
    .attr("x", width / 2)
    .attr("y", height + 95)
    .attr("text-anchor", "middle")
    .text("Porosity (%)");

svg.append("text")
    .attr("class", "title")
    .attr("transform", "translate(-68," + height / 2 + ") rotate(-90)")
    .attr("text-anchor", "middle")
    .text("Depth (mbsf)");

// legend
var legend = svg.append("g")
    .attr("class", "legend")
    .attr("transform", "translate(" + (width - 259) + "," + (height - 157) + ")");

legend.append("rect")
    .attr("width", 235)
    .attr("height", 138);

var rows = legend.selectAll("g.row")
    .data(legendNames)
    .enter().append("g")
    .attr("class", "row")
    .attr("transform", function (d, i) { return "translate(0," + (27 + i * 28.5) + ")"; });

rows.filter(function (d, i) { return i < 3; })
  .append("circle")
    .attr("class", function (d, i) { return "dot " + ["s08", "s02", "s01"][i]; })
    .attr("cx", 39)
    .attr("r", 3.6);

rows.filter(function (d, i) { return i === 3; })
  .append("line")
    .attr("class", "fit")
    .attr("x1", 12)
    .attr("x2", 67);

rows.append("text")
    .attr("x", 78)
    .attr("dy", "0.36em")
    .text(function (d) { return d; });

</script>
</body>
</html>
